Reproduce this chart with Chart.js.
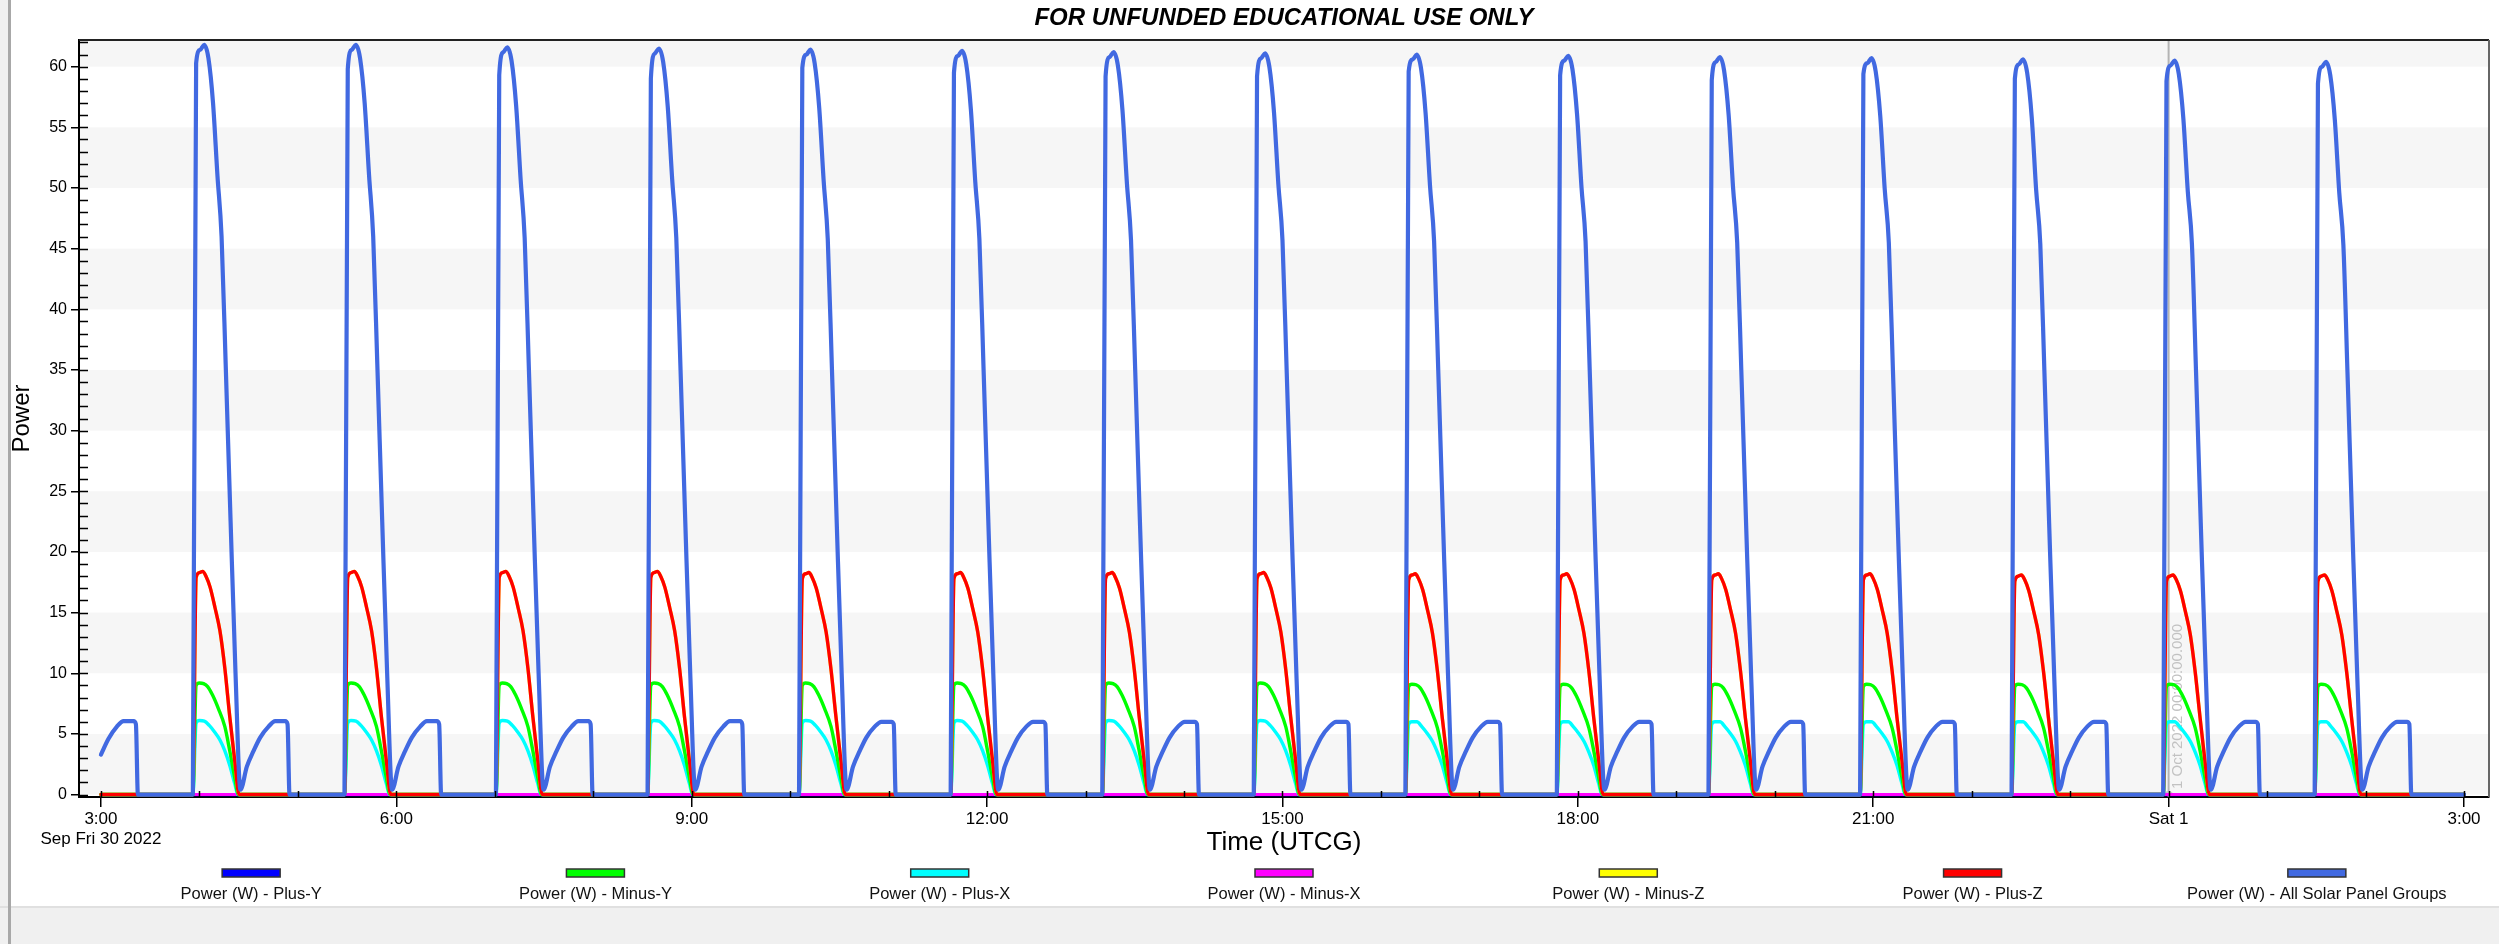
<!DOCTYPE html>
<html><head><meta charset="utf-8">
<style>html,body{margin:0;padding:0;background:#fff;overflow:hidden}canvas{display:block}</style>
<script src="https://cdn.jsdelivr.net/npm/chart.js@4.4.1/dist/chart.umd.min.js"></script>
</head><body><canvas id="c" width="2499" height="944"></canvas>
<script>
// ===== data (times in minutes after 03:00 UTCG, Fri 30 Sep 2022) =====
const seriesNames = ['Power (W) - Plus-Y','Power (W) - Minus-Y','Power (W) - Plus-X','Power (W) - Minus-X','Power (W) - Minus-Z','Power (W) - Plus-Z','Power (W) - All Solar Panel Groups'];
const seriesColors = ['#0000FF','#00FF00','#00FFFF','#FF00FF','#FFFF00','#FF0000','#4169E1'];
const xTickHours = [3,6,9,12,15,18,21,24,27];
const xTickLabels = [['3:00','Sep Fri 30 2022'],'6:00','9:00','12:00','15:00','18:00','21:00','Sat 1','3:00'];
const yTickValues = [0,5,10,15,20,25,30,35,40,45,50,55,60];
const spanEndMin = 1440;
const cursorHour = 24;
const cursorLabel = '1 Oct 2022 00:00:00.000';

// start of each sunlit pass (eclipse exit), minutes after 03:00
const passStartMin = [56.0,148.4,240.7,333.1,425.4,517.8,610.2,702.5,794.9,887.2,979.6,1072.0,1164.3,1256.7,1349.0];

// All Solar Panel Groups
const allHeadMin = [0,4.6,9.7,13.8,19.9,21.3,22.5];
const allHeadVal = [3.3,4.6,5.6,6.05,6.05,5.8,0];
const allPassMin = [0,2,4.5,6.9,9.5,12.3,15.0,17.5,20.0,23.0,26.0,29.0,32.9,37,41,46.1,50.2,56.3,57.7,58.9];
const allPassVal = [
 [0,60.3,61.4,61.8,60.7,57.0,51.0,46.0,35.5,22.5,10.0,0.4,2.3,3.6,4.7,5.6,6.05,6.05,5.8,0],
 [0,59.8,61.4,61.8,60.7,57.0,51.0,46.0,35.5,22.5,10.0,0.4,2.3,3.6,4.7,5.6,6.05,6.05,5.8,0],
 [0,59.3,61.2,61.6,60.5,56.8,50.8,45.9,35.4,22.4,10.0,0.4,2.3,3.6,4.7,5.6,6.05,6.05,5.8,0],
 [0,59.0,61.1,61.5,60.4,56.7,50.7,45.9,35.4,22.4,10.0,0.4,2.3,3.6,4.7,5.6,6.05,6.05,5.8,0],
 [0,59.9,61.0,61.4,60.3,56.6,50.6,45.8,35.3,22.3,9.9,0.4,2.3,3.6,4.7,5.6,6.0,6.0,5.8,0],
 [0,59.5,60.9,61.3,60.2,56.5,50.5,45.8,35.3,22.3,9.9,0.4,2.3,3.6,4.7,5.6,6.0,6.0,5.8,0],
 [0,59.2,60.8,61.2,60.1,56.4,50.4,45.7,35.2,22.2,9.9,0.4,2.3,3.6,4.7,5.6,6.0,6.0,5.8,0],
 [0,59.2,60.7,61.1,60.0,56.3,50.3,45.7,35.2,22.2,9.9,0.4,2.3,3.6,4.7,5.6,6.0,6.0,5.8,0],
 [0,59.6,60.6,61.0,59.9,56.2,50.2,45.6,35.1,22.1,9.8,0.4,2.3,3.6,4.7,5.6,6.0,6.0,5.8,0],
 [0,59.3,60.5,60.9,59.8,56.1,50.1,45.6,35.1,22.1,9.8,0.4,2.3,3.6,4.7,5.6,6.0,6.0,5.8,0],
 [0,58.9,60.4,60.8,59.7,56.0,50.0,45.5,35.0,22.0,9.8,0.4,2.3,3.6,4.7,5.6,6.0,6.0,5.8,0],
 [0,59.4,60.3,60.7,59.6,55.9,49.9,45.5,35.0,22.0,9.7,0.4,2.3,3.6,4.7,5.6,6.0,6.0,5.8,0],
 [0,59.0,60.2,60.6,59.5,55.8,49.8,45.4,34.9,21.9,9.7,0.4,2.3,3.6,4.7,5.6,6.0,6.0,5.8,0],
 [0,58.8,60.1,60.5,59.4,55.7,49.7,45.4,34.9,21.9,9.7,0.4,2.3,3.6,4.7,5.6,6.0,6.0,5.8,0],
 [0,58.6,60.0,60.4,59.3,55.6,49.6,45.3,34.8,21.8,9.6,0.4,2.3,3.6,4.7,5.6,6.0,6.0,5.8,0]
];

// Plus-Z (Minus-Z lies underneath it)
const plusZPassMin = [0,2,4,6,8,10.5,13.5,16.5,19.5,22.5,25.5,28.2];
const plusZPassVal = [
 [0,17.9,18.3,18.4,18.0,17.1,15.4,13.5,10.4,6.4,2.8,0],
 [0,17.9,18.3,18.4,18.0,17.1,15.4,13.5,10.4,6.4,2.8,0],
 [0,17.9,18.3,18.4,18.0,17.1,15.4,13.5,10.4,6.4,2.8,0],
 [0,17.9,18.3,18.4,18.0,17.1,15.4,13.5,10.4,6.4,2.8,0],
 [0,17.8,18.2,18.3,17.9,17.0,15.3,13.4,10.3,6.4,2.8,0],
 [0,17.8,18.2,18.3,17.9,17.0,15.3,13.4,10.3,6.4,2.8,0],
 [0,17.8,18.2,18.3,17.9,17.0,15.3,13.4,10.3,6.4,2.8,0],
 [0,17.8,18.2,18.3,17.9,17.0,15.3,13.4,10.3,6.4,2.8,0],
 [0,17.7,18.1,18.2,17.8,16.9,15.2,13.3,10.2,6.3,2.8,0],
 [0,17.7,18.1,18.2,17.8,16.9,15.2,13.3,10.2,6.3,2.8,0],
 [0,17.7,18.1,18.2,17.8,16.9,15.2,13.3,10.2,6.3,2.8,0],
 [0,17.7,18.1,18.2,17.8,16.9,15.2,13.3,10.2,6.3,2.8,0],
 [0,17.6,18.0,18.1,17.7,16.8,15.1,13.2,10.1,6.3,2.7,0],
 [0,17.6,18.0,18.1,17.7,16.8,15.1,13.2,10.1,6.3,2.7,0],
 [0,17.6,18.0,18.1,17.7,16.8,15.1,13.2,10.1,6.3,2.7,0]
];

// Minus-Y
const minusYPassMin = [0,2,4,6.5,9,12,15.5,19.5,22.5,25.5,27.8];
const minusYPassVal = [
 [0,9.0,9.2,9.15,8.9,8.2,7.1,5.6,3.6,1.4,0],
 [0,9.0,9.2,9.15,8.9,8.2,7.1,5.6,3.6,1.4,0],
 [0,9.0,9.2,9.15,8.9,8.2,7.1,5.6,3.6,1.4,0],
 [0,9.0,9.2,9.15,8.9,8.2,7.1,5.6,3.6,1.4,0],
 [0,9.0,9.2,9.15,8.9,8.2,7.1,5.6,3.6,1.4,0],
 [0,9.0,9.2,9.15,8.9,8.2,7.1,5.6,3.6,1.4,0],
 [0,9.0,9.2,9.15,8.9,8.2,7.1,5.6,3.6,1.4,0],
 [0,9.0,9.2,9.15,8.9,8.2,7.1,5.6,3.6,1.4,0],
 [0,8.9,9.1,9.05,8.8,8.1,7.0,5.5,3.6,1.4,0],
 [0,8.9,9.1,9.05,8.8,8.1,7.0,5.5,3.6,1.4,0],
 [0,8.9,9.1,9.05,8.8,8.1,7.0,5.5,3.6,1.4,0],
 [0,8.9,9.1,9.05,8.8,8.1,7.0,5.5,3.6,1.4,0],
 [0,8.9,9.1,9.05,8.8,8.1,7.0,5.5,3.6,1.4,0],
 [0,8.9,9.1,9.05,8.8,8.1,7.0,5.5,3.6,1.4,0],
 [0,8.9,9.1,9.05,8.8,8.1,7.0,5.5,3.6,1.4,0]
];

// Plus-X
const plusXPassMin = [0,2,4,7,10,13,16.5,19.5,22.5,25.5,27.5];
const plusXPassVal = [
 [0,5.9,6.1,6.05,5.7,5.2,4.5,3.6,2.4,0.9,0],
 [0,5.9,6.1,6.05,5.7,5.2,4.5,3.6,2.4,0.9,0],
 [0,5.9,6.1,6.05,5.7,5.2,4.5,3.6,2.4,0.9,0],
 [0,5.9,6.1,6.05,5.7,5.2,4.5,3.6,2.4,0.9,0],
 [0,5.9,6.1,6.05,5.7,5.2,4.5,3.6,2.4,0.9,0],
 [0,5.9,6.1,6.05,5.7,5.2,4.5,3.6,2.4,0.9,0],
 [0,5.9,6.1,6.05,5.7,5.2,4.5,3.6,2.4,0.9,0],
 [0,5.9,6.1,6.05,5.7,5.2,4.5,3.6,2.4,0.9,0],
 [0,5.8,6.0,6.0,5.6,5.1,4.4,3.5,2.4,0.9,0],
 [0,5.8,6.0,6.0,5.6,5.1,4.4,3.5,2.4,0.9,0],
 [0,5.8,6.0,6.0,5.6,5.1,4.4,3.5,2.4,0.9,0],
 [0,5.8,6.0,6.0,5.6,5.1,4.4,3.5,2.4,0.9,0],
 [0,5.8,6.0,6.0,5.6,5.1,4.4,3.5,2.4,0.9,0],
 [0,5.8,6.0,6.0,5.6,5.1,4.4,3.5,2.4,0.9,0],
 [0,5.8,6.0,6.0,5.6,5.1,4.4,3.5,2.4,0.9,0]
];

// flat series
const minusXMin = [0,1440];
const minusXVal = [0,0];
const plusYMin = [0,1440];
const plusYVal = [0,0];

// ===== build points (minutes -> hours of 30 Sep) =====
const toH = m => 3 + m / 60;
function seriesPoints(headMin, headVal, passMin, rows) {
  const pts = [];
  if (headMin) headMin.forEach((m, i) => pts.push({x: toH(m), y: headVal[i]}));
  else pts.push({x: toH(0), y: 0});
  rows.forEach((row, k) => passMin.forEach((m, i) => pts.push({x: toH(passStartMin[k] + m), y: row[i]})));
  pts.push({x: toH(spanEndMin), y: 0});
  return pts;
}
const flatPoints = (mins, vals) => mins.map((m, i) => ({x: toH(m), y: vals[i]}));

const seriesData = [
  flatPoints(plusYMin, plusYVal),
  seriesPoints(null, null, minusYPassMin, minusYPassVal),
  seriesPoints(null, null, plusXPassMin, plusXPassVal),
  flatPoints(minusXMin, minusXVal),
  seriesPoints(null, null, plusZPassMin, plusZPassVal),
  seriesPoints(null, null, plusZPassMin, plusZPassVal),
  seriesPoints(allHeadMin, allHeadVal, allPassMin, allPassVal)
];
const drawOrder = [6, 3, 4, 5, 2, 1, 0];
const lineWidths = [3.2, 3.4, 3.4, 3.0, 3.4, 3.4, 4.2];

const FONT = '"Liberation Sans", Arial, Helvetica, sans-serif';
Chart.defaults.font.family = FONT;
Chart.defaults.font.size = 16;
Chart.defaults.color = '#000';

const decor = {
  id: 'decor',
  beforeDraw(chart) {
    const {ctx, chartArea: ca, scales: {y}} = chart;
    ctx.save();
    ctx.fillStyle = '#fff';
    ctx.fillRect(0, 0, chart.width, chart.height);
    // window chrome
    ctx.fillStyle = '#f0f0f0';
    ctx.fillRect(0, 0, 8, chart.height);
    ctx.fillRect(0, 907, chart.width, chart.height - 907);
    ctx.fillStyle = '#e0e0e0';
    ctx.fillRect(0, 906, chart.width, 2);
    ctx.fillStyle = '#a8a8a8';
    ctx.fillRect(8, 0, 3, chart.height);
    // bands
    ctx.fillStyle = '#f6f6f6';
    for (let v = 0; v < y.max; v += 10) {
      const top = y.getPixelForValue(Math.min(v + 5, y.max));
      const bot = y.getPixelForValue(v);
      ctx.fillRect(ca.left, top, ca.right - ca.left, bot - top);
    }
    ctx.restore();
  },
  beforeDatasetsDraw(chart) {
    const {ctx, chartArea: ca, scales: {x}} = chart;
    const px = x.getPixelForValue(cursorHour);
    ctx.save();
    ctx.strokeStyle = '#b4b4b4';
    ctx.lineWidth = 2;
    ctx.beginPath(); ctx.moveTo(px, ca.top); ctx.lineTo(px, ca.bottom); ctx.stroke();
    ctx.fillStyle = '#c4c4c4';
    ctx.beginPath(); ctx.arc(px, ca.bottom - 1, 5, Math.PI, 0); ctx.fill();
    ctx.translate(px + 9, ca.bottom - 8);
    ctx.rotate(-Math.PI / 2);
    ctx.font = '15px ' + FONT;
    ctx.fillStyle = '#c2c2c2';
    ctx.textAlign = 'left'; ctx.textBaseline = 'middle';
    ctx.fillText(cursorLabel, 0, 0);
    ctx.restore();
  },
  afterDraw(chart) {
    const {ctx, chartArea: ca, scales: {x, y}} = chart;
    ctx.save();
    // frame
    ctx.strokeStyle = '#222'; ctx.lineWidth = 2;
    ctx.beginPath(); ctx.moveTo(ca.left, ca.top); ctx.lineTo(ca.right, ca.top); ctx.stroke();
    ctx.strokeStyle = '#666';
    ctx.beginPath(); ctx.moveTo(ca.right, ca.top); ctx.lineTo(ca.right, ca.bottom); ctx.stroke();
    // minor / inner ticks
    ctx.strokeStyle = '#000'; ctx.lineWidth = 1.5;
    ctx.beginPath();
    for (let v = 0; v <= Math.floor(y.max); v++) {
      const py = Math.round(y.getPixelForValue(v)) + 0.5;
      ctx.moveTo(ca.left, py); ctx.lineTo(ca.left + 9, py);
    }
    for (let h = 3; h <= 27; h++) {
      const px = Math.round(x.getPixelForValue(h)) + 0.5;
      ctx.moveTo(px, ca.bottom); ctx.lineTo(px, ca.bottom - 6);
    }
    ctx.stroke();
    // title
    ctx.fillStyle = '#000';
    ctx.font = 'italic bold 24px ' + FONT;
    ctx.textAlign = 'center'; ctx.textBaseline = 'middle';
    ctx.fillText('FOR UNFUNDED EDUCATIONAL USE ONLY', (ca.left + ca.right) / 2, 18);
    // legend
    const colW = (ca.right - ca.left) / seriesNames.length;
    ctx.font = '16.5px ' + FONT;
    chart.data.datasets.forEach((ds, i) => {
      const cx = ca.left + colW * (i + 0.5);
      ctx.fillStyle = ds.borderColor;
      ctx.fillRect(cx - 29, 869, 58, 8);
      ctx.strokeStyle = '#333'; ctx.lineWidth = 1.5;
      ctx.strokeRect(cx - 29, 869, 58, 8);
      ctx.fillStyle = '#111';
      ctx.fillText(ds.label, cx, 894);
    });
    ctx.restore();
  }
};

new Chart(document.getElementById('c'), {
  type: 'line',
  data: {
    datasets: seriesNames.map((name, i) => ({
      label: name,
      data: seriesData[i],
      borderColor: seriesColors[i],
      backgroundColor: seriesColors[i],
      borderWidth: lineWidths[i],
      pointRadius: 0,
      fill: false,
      cubicInterpolationMode: 'monotone',
      borderJoinStyle: 'round',
      borderCapStyle: 'round',
      order: drawOrder[i]
    }))
  },
  options: {
    responsive: false,
    animation: false,
    devicePixelRatio: 1,
    parsing: false,
    normalized: true,
    layout: {padding: {top: 40, right: 10, bottom: 75, left: 0}},
    plugins: {legend: {display: false}, tooltip: {enabled: false}, title: {display: false}},
    scales: {
      x: {
        type: 'linear',
        min: 2.777, max: 27.254,
        afterBuildTicks: s => { s.ticks = xTickHours.map(v => ({value: v})); },
        afterFit: s => { s.height = 72; },
        ticks: {
          autoSkip: false, maxRotation: 0, minRotation: 0, padding: 2, color: '#000',
          font: {size: 17},
          callback: v => xTickLabels[xTickHours.indexOf(v)]
        },
        grid: {display: true, drawOnChartArea: false, drawTicks: true, tickLength: 10, color: '#000', lineWidth: 1.5},
        border: {display: true, color: '#000', width: 2},
        title: {display: true, text: 'Time (UTCG)', color: '#000', font: {size: 26}, padding: {top: 0, bottom: 11}}
      },
      y: {
        type: 'linear',
        min: -0.2, max: 62.2,
        afterBuildTicks: s => { s.ticks = yTickValues.map(v => ({value: v})); },
        afterFit: s => { s.width = 79; },
        ticks: {padding: 4, color: '#000', font: {size: 16}, callback: v => String(v)},
        grid: {display: true, drawOnChartArea: false, drawTicks: true, tickLength: 8, color: '#000', lineWidth: 1.5},
        border: {display: true, color: '#000', width: 2},
        title: {display: true, text: 'Power', color: '#000', font: {size: 24}, padding: {top: 8, bottom: 0}}
      }
    }
  },
  plugins: [decor]
});
</script>
</body></html>
